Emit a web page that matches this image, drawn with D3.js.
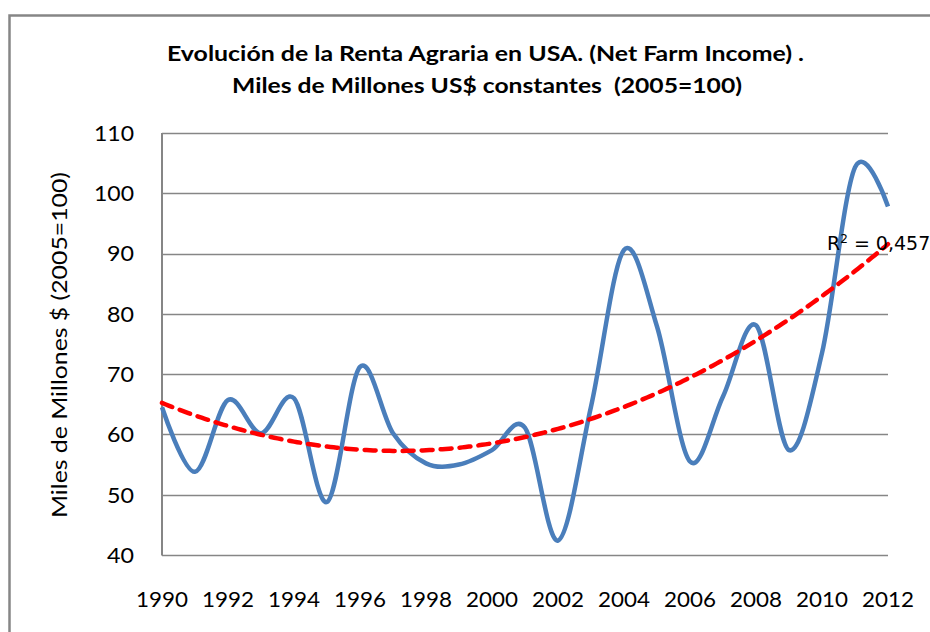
<!DOCTYPE html>
<html>
<head>
<meta charset="utf-8">
<script src="https://cdn.jsdelivr.net/npm/d3@7"></script>
<style>
  body { margin: 0; background: #fff; }
  svg { display: block; }
</style>
</head>
<body>
<div id="chart"></div>
<script>
// Net farm income, billions of constant US$ (2005=100)
const years = d3.range(1990, 2013);
const income = [64.5, 53.8, 65.7, 60.2, 66.0, 48.8, 71.2, 60.2, 55.2, 55.0, 57.4, 61.1,
                42.4, 64.6, 90.6, 77.9, 55.5, 66.3, 78.1, 57.4, 73.5, 104.3, 97.8];
const yTicks = [40, 50, 60, 70, 80, 90, 100, 110];
const xTicks = d3.range(1990, 2013, 2);
const titleLines = ["Evolución de la Renta Agraria en USA. (Net Farm Income) .",
                    "Miles de Millones US$ constantes  (2005=100)"];
const yTitle = "Miles de Millones $ (2005=100)";
const r2Label = "0,457";

const W = 930, H = 632;
const plot = { left: 162, right: 888, top: 133, bottom: 555 };
const font = "Lato, 'Open Sans', sans-serif";

const svg = d3.select("#chart").append("svg")
    .attr("width", W)
    .attr("height", H);

// outer chart frame (runs off the right and bottom of the picture)
svg.append("rect")
    .attr("x", 9.5).attr("y", 15.5)
    .attr("width", W + 20).attr("height", H + 20)
    .attr("fill", "none")
    .attr("stroke", "#868686")
    .attr("stroke-width", 2.5);

const x = d3.scaleLinear().domain([1990, 2012]).range([plot.left, plot.right]);
const y = d3.scaleLinear().domain([40, 110]).range([plot.bottom, plot.top]);

// gridlines
svg.append("g")
    .selectAll("line")
    .data(yTicks)
    .join("line")
    .attr("x1", plot.left).attr("x2", plot.right)
    .attr("y1", d => Math.round(y(d)) + 0.5)
    .attr("y2", d => Math.round(y(d)) + 0.5)
    .attr("stroke", "#868686")
    .attr("stroke-width", 1.3);

// left axis line
svg.append("line")
    .attr("x1", plot.left).attr("x2", plot.left)
    .attr("y1", plot.top).attr("y2", plot.bottom + 0.5)
    .attr("stroke", "#868686")
    .attr("stroke-width", 2);

// y tick labels
svg.append("g")
    .selectAll("text")
    .data(yTicks)
    .join("text")
    .attr("x", 134)
    .attr("y", d => y(d))
    .attr("dy", "0.36em")
    .attr("text-anchor", "end")
    .attr("font-family", font)
    .attr("font-size", 22)
    .attr("textLength", d => d >= 100 ? 40 : 27)
    .attr("lengthAdjust", "spacingAndGlyphs")
    .attr("fill", "#000")
    .text(d => d);

// x tick labels
svg.append("g")
    .selectAll("text")
    .data(xTicks)
    .join("text")
    .attr("x", d => x(d) - 26)
    .attr("y", 607)
    .attr("font-family", font)
    .attr("font-size", 22)
    .attr("textLength", 52)
    .attr("lengthAdjust", "spacingAndGlyphs")
    .attr("fill", "#000")
    .text(d => d);

// title
svg.append("text")
    .attr("x", 167).attr("y", 61)
    .attr("font-family", font)
    .attr("font-weight", "bold")
    .attr("font-size", 21)
    .attr("textLength", 637)
    .attr("lengthAdjust", "spacingAndGlyphs")
    .text(titleLines[0]);
svg.append("text")
    .attr("x", 232).attr("y", 93)
    .attr("font-family", font)
    .attr("font-weight", "bold")
    .attr("font-size", 21)
    .attr("textLength", 510)
    .attr("lengthAdjust", "spacingAndGlyphs")
    .style("white-space", "pre")
    .text(titleLines[1]);

// y axis title
svg.append("text")
    .attr("transform", "translate(67,518) rotate(-90)")
    .attr("font-family", font)
    .attr("font-size", 22)
    .attr("textLength", 346)
    .attr("lengthAdjust", "spacingAndGlyphs")
    .text(yTitle);

// polynomial (order 2) trendline fitted to the series, x = 1..n like Excel
function quadFit(xs, ys) {
    let s = [0, 0, 0, 0, 0], t = [0, 0, 0];
    xs.forEach((xv, i) => {
        for (let k = 0; k < 5; k++) s[k] += Math.pow(xv, k);
        for (let k = 0; k < 3; k++) t[k] += ys[i] * Math.pow(xv, k);
    });
    const A = [[s[0], s[1], s[2], t[0]], [s[1], s[2], s[3], t[1]], [s[2], s[3], s[4], t[2]]];
    for (let i = 0; i < 3; i++) {
        for (let j = i + 1; j < 3; j++) {
            const f = A[j][i] / A[i][i];
            for (let k = i; k < 4; k++) A[j][k] -= f * A[i][k];
        }
    }
    const c = [0, 0, 0];
    for (let i = 2; i >= 0; i--) {
        let v = A[i][3];
        for (let k = i + 1; k < 3; k++) v -= A[i][k] * c[k];
        c[i] = v / A[i][i];
    }
    return c;
}
const idx = years.map((d, i) => i + 1);
const coef = quadFit(idx, income);
const trend = d3.range(0, years.length - 1 + 0.001, 0.1).map(i => ({
    year: 1990 + i,
    value: coef[0] + coef[1] * (i + 1) + coef[2] * (i + 1) * (i + 1)
}));

const series = years.map((yr, i) => ({ year: yr, value: income[i] }));

svg.append("path")
    .datum(series)
    .attr("fill", "none")
    .attr("stroke", "#4a7ebb")
    .attr("stroke-width", 4.5)
    .attr("stroke-linejoin", "round")
    .attr("d", d3.line()
        .x(d => x(d.year))
        .y(d => y(d.value))
        .curve(d3.curveCardinal.tension(0)));

svg.append("path")
    .datum(trend)
    .attr("fill", "none")
    .attr("stroke", "#ff0000")
    .attr("stroke-width", 4.5)
    .attr("stroke-dasharray", "11,8")
    .attr("stroke-linecap", "round")
    .attr("d", d3.line()
        .x(d => x(d.year))
        .y(d => y(d.value)));

// R² label
const r2 = svg.append("text")
    .attr("x", 827).attr("y", 250)
    .attr("font-family", "'DejaVu Sans', sans-serif")
    .attr("font-size", 19)
    .attr("fill", "#000");
r2.append("tspan").text("R");
r2.append("tspan").attr("font-size", 12).attr("dy", -7).text("2");
r2.append("tspan").attr("dy", 7).text(" = " + r2Label);
</script>
</body>
</html>
